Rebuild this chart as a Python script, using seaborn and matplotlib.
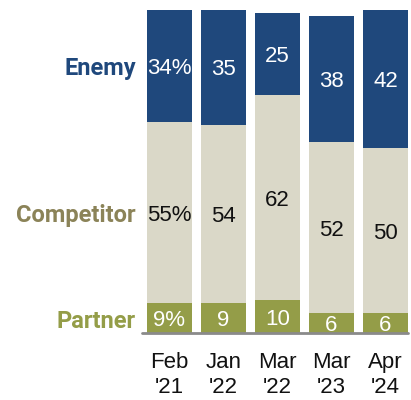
import matplotlib
matplotlib.use("Agg")
import matplotlib.pyplot as plt
import seaborn as sns
import pandas as pd
import numpy as np

# Survey waves and the share describing the country as each category (%)
periods = ["Feb\n'21", "Jan\n'22", "Mar\n'22", "Mar\n'23", "Apr\n'24"]
partner = [9, 9, 10, 6, 6]
competitor = [55, 54, 62, 52, 50]
enemy = [34, 35, 25, 38, 42]
categories = ["Enemy", "Competitor", "Partner"]

c_enemy = "#1f487c"
c_comp = "#dad8c8"
c_partner = "#949d48"
label_colors = {"Enemy": "#1f487c", "Competitor": "#8b8358", "Partner": "#949d48"}

sns.set_theme(style="white")
plt.rcParams["font.family"] = ["Liberation Sans", "DejaVu Sans"]

df = pd.DataFrame({
    "period": periods,
    "partner": partner,
    "competitor": competitor,
    "enemy": enemy,
})
df["mid_top"] = df["partner"] + df["competitor"]
df["total"] = df["mid_top"] + df["enemy"]

fig = plt.figure(figsize=(4.11, 4.00), dpi=100)
ax = fig.add_axes([142 / 411, 67 / 400, 266 / 411, 330 / 400])

common = dict(data=df, x="period", order=periods, width=0.833, linewidth=0,
              saturation=1, errorbar=None, ax=ax)
sns.barplot(y="total", color=c_enemy, **common)
sns.barplot(y="mid_top", color=c_comp, **common)
sns.barplot(y="partner", color=c_partner, **common)

ax.set_xlim(-0.509, 4.417)
ax.set_ylim(0, 100)
ax.axhline(0, color="#8a8a8a", lw=2, clip_on=False)
for s in ax.spines.values():
    s.set_visible(False)
ax.set_yticks([])
ax.set_ylabel("")
ax.set_xlabel("")
ax.tick_params(axis="x", length=0, pad=14, labelsize=16, colors="#111111")
for t in ax.get_xticklabels():
    t.set_linespacing(1.25)

# Segment values
dy = -0.8
for i in range(len(periods)):
    suffix = "%" if i == 0 else ""
    p, c, e = partner[i], competitor[i], enemy[i]
    ax.text(i, p / 2 + dy, f"{p}{suffix}", ha="center", va="center",
            color="white", fontsize=16)
    ax.text(i, p + c / 2 + dy, f"{c}{suffix}", ha="center", va="center",
            color="#111111", fontsize=16)
    ax.text(i, p + c + e / 2 + dy, f"{e}{suffix}", ha="center", va="center",
            color="white", fontsize=16)

# Category labels beside the first bar
first_mid = {
    "Partner": partner[0] / 2,
    "Competitor": partner[0] + competitor[0] / 2,
    "Enemy": partner[0] + competitor[0] + enemy[0] / 2,
}
for name in categories:
    ax.text(-0.62, first_mid[name] - 1.0, name, ha="right", va="center",
            fontsize=17, fontweight="bold", color=label_colors[name],
            family=["Roboto", "DejaVu Sans"])

fig.savefig("out.png", dpi=100)
